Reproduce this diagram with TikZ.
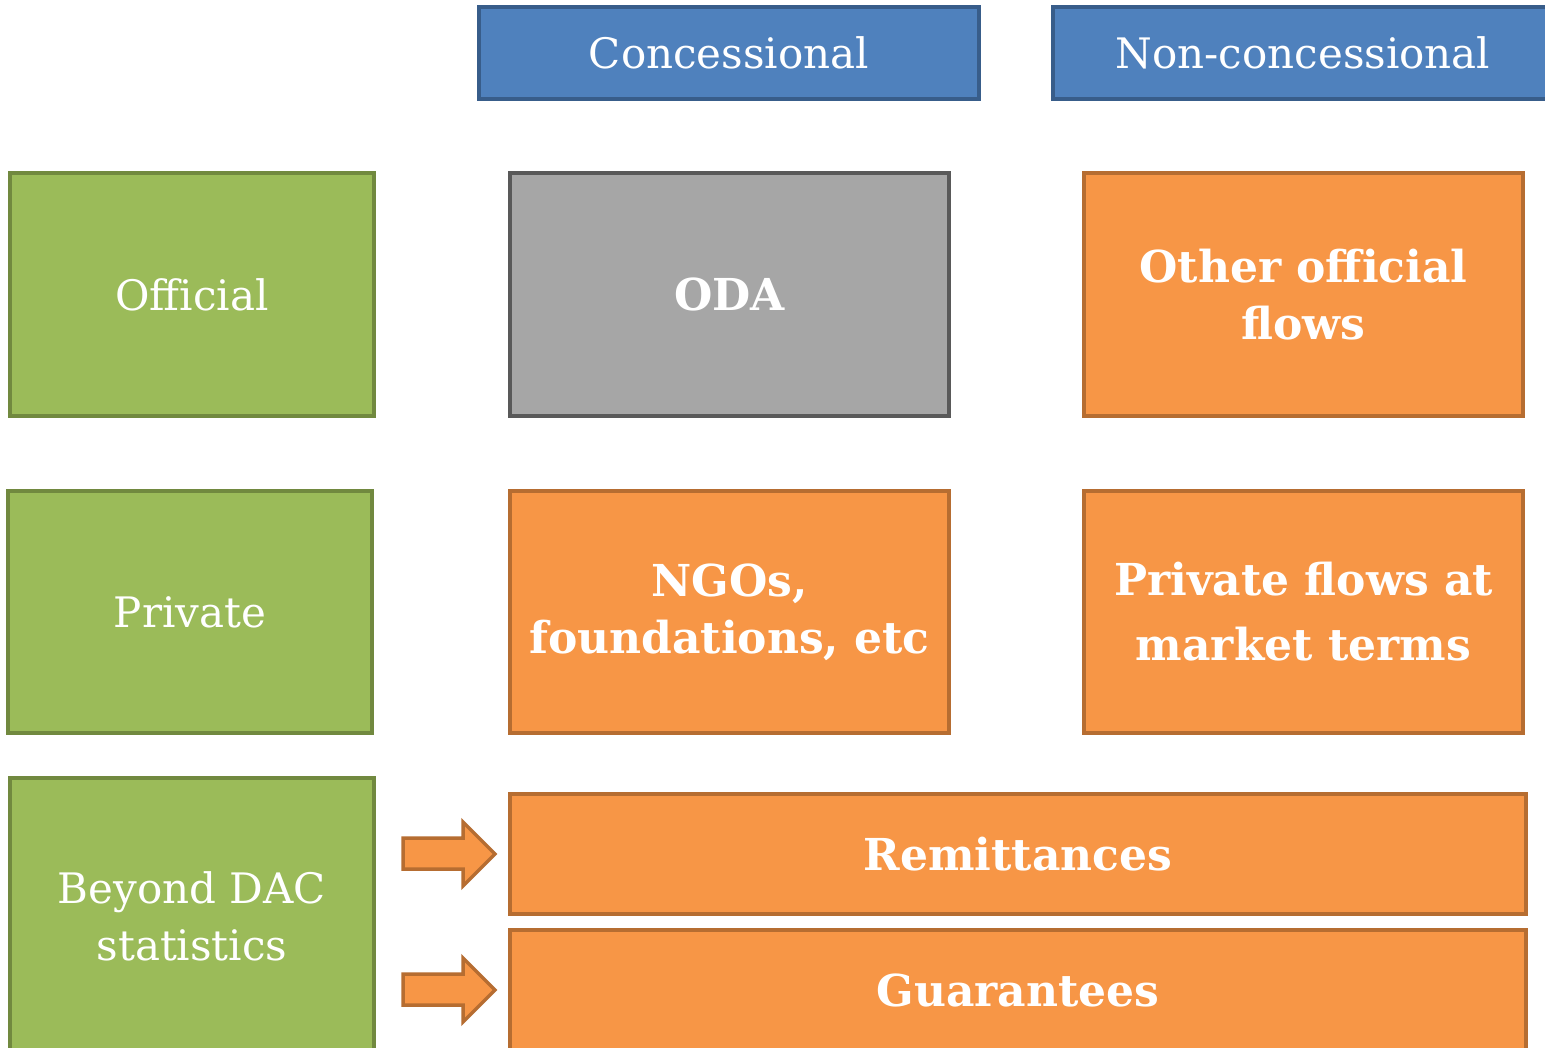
\documentclass[tikz,border=0pt]{standalone}
\usepackage{fontspec}
\setmainfont{DejaVu Serif}
\begin{document}
\begin{tikzpicture}[x=1pt,y=-1pt,
  box/.style={draw, line width=3.5pt, inner sep=0pt, text=white, align=center},
  bluebox/.style={box, fill={rgb,255:red,79;green,129;blue,189}, draw={rgb,255:red,56;green,93;blue,138}},
  greenbox/.style={box, fill={rgb,255:red,155;green,187;blue,89}, draw={rgb,255:red,113;green,137;blue,63}},
  graybox/.style={box, fill={rgb,255:red,166;green,166;blue,166}, draw={rgb,255:red,89;green,89;blue,89}},
  orangebox/.style={box, fill={rgb,255:red,247;green,150;blue,70}, draw={rgb,255:red,182;green,109;blue,49}},
  normtxt/.style={font=\fontsize{42}{57}\selectfont},
  boldtxt/.style={font=\fontsize{44}{57}\selectfont\bfseries},
  blockarrow/.style={fill={rgb,255:red,247;green,150;blue,70}, draw={rgb,255:red,182;green,109;blue,49}, line width=3.5pt, line join=miter}
]
\useasboundingbox (0,0) rectangle (1545,1048);
\clip (0,0) rectangle (1545,1048);
\fill[white] (0,0) rectangle (1545,1048);
% headers
\node[bluebox, normtxt, minimum width=500pt, minimum height=92pt] (conc) at (729,53) {Concessional};
\node[bluebox, minimum width=500pt, minimum height=92pt] (nonc) at (1303,53) {};
\node[normtxt, text=white, anchor=center] (nonct) at (1303,53) {Non-concessional};
% row labels
\node[greenbox, normtxt, minimum width=364pt, minimum height=243pt] (off) at (192,294.5) {Official};
\node[greenbox, normtxt, minimum width=364pt, minimum height=242pt] (priv) at (190,612) {Private};
\node[greenbox, minimum width=364pt, minimum height=300pt] (beyond) at (192,928) {};
\node[normtxt, text=white, align=center] (beyondt) at (192,916) {Beyond DAC\\statistics};
% cells
\node[graybox, boldtxt, minimum width=439pt, minimum height=243pt] (oda) at (729.5,294.5) {ODA};
\node[orangebox, boldtxt, minimum width=439pt, minimum height=243pt] (oof) at (1303.5,294.5) {Other official\\flows};
\node[orangebox, boldtxt, minimum width=439pt, minimum height=242pt] (ngo) at (729.5,612) {NGOs,\\foundations, etc};
\node[orangebox, font=\fontsize{44}{65}\selectfont\bfseries, minimum width=439pt, minimum height=242pt] (pfm) at (1303.5,612) {Private flows at\\market terms};
\node[orangebox, boldtxt, minimum width=1016pt, minimum height=120pt] (rem) at (1018,854) {Remittances};
\node[orangebox, minimum width=1016pt, minimum height=160pt] (guar) at (1018,1010) {};
\node[boldtxt, text=white] (guart) at (1018,990) {Guarantees};
% block arrows
\draw[blockarrow] (403,838) -- (463,838) -- (463,822) -- (495,854) -- (463,886) -- (463,869) -- (403,869) -- cycle;
\draw[blockarrow] (403,974) -- (463,974) -- (463,958) -- (495,990) -- (463,1022) -- (463,1005) -- (403,1005) -- cycle;
\end{tikzpicture}
\end{document}
